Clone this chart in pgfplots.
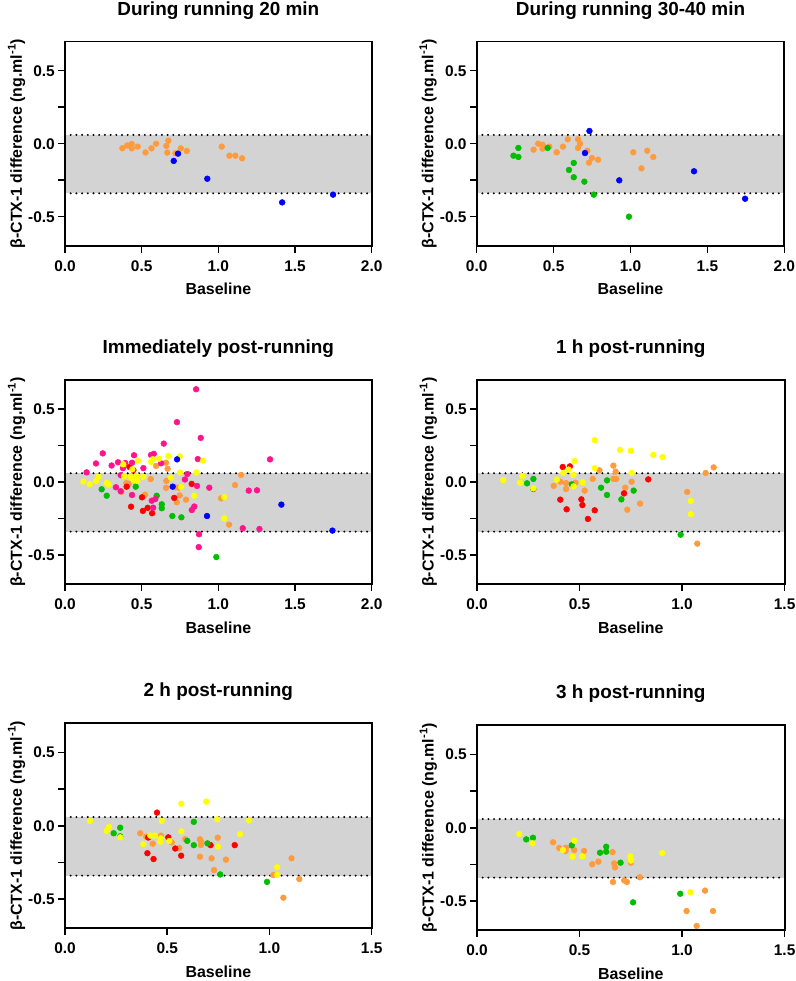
\documentclass[border=0pt]{standalone}
\usepackage{pgfplots}
\pgfplotsset{compat=1.18}
\usepackage{fontspec}
\setmainfont{Liberation Sans}
\definecolor{cOr}{RGB}{255,155,60}
\definecolor{cBl}{RGB}{0,0,255}
\definecolor{cGr}{RGB}{0,190,0}
\definecolor{cRd}{RGB}{255,0,0}
\definecolor{cYe}{RGB}{255,255,0}
\definecolor{cPk}{RGB}{255,20,140}
\definecolor{cBand}{RGB}{211,211,211}
\pgfplotsset{
  bap/.style={
    scale only axis, anchor=south west,
    axis on top,
    axis line style={line width=1.8bp},
    every tick/.style={black, line width=1.5bp},
    major tick length=6.7bp,
    tick align=outside,
    xtick pos=bottom, ytick pos=left,
    xmin=0, xmax=#1, ymin=-0.7, ymax=0.7,
    ytick={-0.5,-0.25,0,0.25,0.5},
    yticklabels={-0.5,,0.0,,0.5},
    ylabel={β-CTX-1 difference (ng.ml\textsuperscript{-1})},
    xlabel={Baseline},
    tick label style={font=\bfseries\fontsize{15.5}{18}\selectfont},
    xticklabel style={yshift=-4.5bp},
    label style={font=\bfseries\fontsize{16}{19}\selectfont},
    title style={font=\bfseries\fontsize{19}{22}\selectfont, at={(axis description cs:0.5,1.1296)}, anchor=base, yshift=-6pt},
    xlabel style={at={(axis description cs:0.5,-0.240)}, anchor=base},
    ylabel style={at={(axis description cs:-0.158,0.5)}, anchor=center},
  },
  pts/.style={only marks, color=#1, mark=*, mark size=2.9bp, mark options={draw=#1, fill=#1, line width=0.5bp, solid}},
  bandline/.style={black, line width=2.2bp, line cap=round, dash pattern=on 0bp off 5.7bp},
}
\newcommand{\band}[1]{%
  \addplot[draw=none, fill=cBand] coordinates {(0,-0.34) (#1,-0.34) (#1,0.06) (0,0.06)};
  \addplot[bandline] coordinates {(0,0.06) (#1,0.06)};
  \addplot[bandline] coordinates {(0,-0.34) (#1,-0.34)};
}
\begin{document}
\begin{tikzpicture}
\path[use as bounding box] (0,0) rectangle (796bp,981bp);

% Panel 1
\begin{axis}[bap=2, at={(65bp,735.1bp)}, width=306.7bp, height=204.4bp,
  xtick={0,0.5,1,1.5,2}, xticklabels={0.0,0.5,1.0,1.5,2.0},
  title={During running 20 min}]
\band{2}
\addplot[pts=cOr] coordinates {(0.374,-0.031)(0.406,-0.012)(0.435,-0.002)(0.435,-0.032)(0.474,-0.020)(0.525,-0.060)(0.564,-0.032)(0.594,0.000)(0.661,-0.015)(0.674,0.021)(0.667,-0.061)(0.720,-0.065)(0.755,-0.032)(0.794,-0.050)(1.022,-0.020)(1.072,-0.082)(1.111,-0.082)(1.155,-0.100)};
\addplot[pts=cBl] coordinates {(0.709,-0.118)(0.737,-0.068)(0.928,-0.240)(1.416,-0.402)(1.748,-0.349)};
\end{axis}

% Panel 2
\begin{axis}[bap=2, at={(476.7bp,735.1bp)}, width=307.6bp, height=204.4bp,
  xtick={0,0.5,1,1.5,2}, xticklabels={0.0,0.5,1.0,1.5,2.0},
  title={During running 30-40 min}]
\band{2}
\addplot[pts=cOr] coordinates {(0.370,-0.041)(0.400,0.000)(0.428,-0.007)(0.428,-0.034)(0.472,-0.020)(0.520,-0.059)(0.561,-0.020)(0.592,0.030)(0.659,0.030)(0.672,0.000)(0.659,-0.029)(0.719,-0.048)(0.749,-0.098)(0.730,-0.130)(0.789,-0.110)(1.018,-0.059)(1.109,-0.048)(1.148,-0.091)(1.071,-0.169)};
\addplot[pts=cGr] coordinates {(0.239,-0.082)(0.271,-0.029)(0.271,-0.091)(0.461,-0.029)(0.631,-0.132)(0.600,-0.180)(0.631,-0.230)(0.700,-0.260)(0.761,-0.349)(0.990,-0.500)};
\addplot[pts=cBl] coordinates {(0.733,0.087)(0.704,-0.064)(0.927,-0.251)(1.413,-0.189)(1.745,-0.377)};
\end{axis}

% Panel 3
\begin{axis}[bap=2, at={(65bp,396.8bp)}, width=306.7bp, height=204.4bp,
  xtick={0,0.5,1,1.5,2}, xticklabels={0.0,0.5,1.0,1.5,2.0},
  title={Immediately post-running}]
\band{2}
\addplot[pts=cOr] coordinates {(0.367,-0.068)(0.400,-0.008)(0.415,-0.012)(0.405,-0.025)(0.522,-0.087)(0.559,0.020)(0.594,0.110)(0.659,0.132)(0.669,0.091)(0.661,0.008)(0.659,-0.040)(0.718,-0.036)(0.741,-0.039)(0.748,-0.092)(0.789,-0.121)(0.729,-0.139)(1.018,-0.112)(1.070,-0.292)(1.109,-0.021)(1.148,0.048)};
\addplot[pts=cRd] coordinates {(0.420,0.103)(0.446,0.082)(0.402,-0.032)(0.502,-0.105)(0.431,-0.169)(0.508,-0.198)(0.539,-0.177)(0.568,-0.214)(0.712,-0.109)(0.826,-0.013)};
\addplot[pts=cGr] coordinates {(0.239,-0.050)(0.272,-0.094)(0.461,-0.032)(0.598,-0.094)(0.631,-0.153)(0.631,-0.180)(0.700,-0.233)(0.759,-0.242)(0.987,-0.514)};
\addplot[pts=cPk] coordinates {(0.141,0.066)(0.202,0.127)(0.246,0.196)(0.304,0.113)(0.346,0.135)(0.378,0.094)(0.393,0.130)(0.437,0.132)(0.450,0.183)(0.363,0.047)(0.332,-0.036)(0.363,-0.063)(0.437,-0.089)(0.511,0.095)(0.561,0.185)(0.579,0.193)(0.627,0.128)(0.566,-0.128)(0.589,-0.117)(0.575,-0.176)(0.644,0.263)(0.730,0.410)(0.855,0.635)(0.885,0.302)(0.866,0.157)(0.782,0.017)(0.798,0.055)(0.861,-0.027)(0.941,-0.039)(0.843,-0.168)(0.827,-0.192)(0.874,-0.358)(0.872,-0.446)(1.159,-0.317)(1.198,-0.059)(1.252,-0.057)(1.268,-0.322)(1.337,0.155)};
\addplot[pts=cYe] coordinates {(0.120,0.003)(0.161,-0.014)(0.203,0.006)(0.218,0.036)(0.272,-0.006)(0.285,-0.017)(0.380,0.121)(0.476,0.145)(0.439,0.087)(0.385,0.040)(0.428,0.035)(0.468,0.040)(0.472,0.008)(0.511,0.035)(0.446,0.014)(0.561,0.137)(0.572,0.156)(0.613,0.159)(0.674,0.178)(0.748,0.176)(0.900,0.146)(0.750,0.065)(0.856,0.065)(0.690,0.030)(0.758,-0.035)(0.843,-0.094)(1.038,-0.103)(1.038,-0.249)};
\addplot[pts=cBl] coordinates {(0.731,0.155)(0.702,-0.032)(0.926,-0.233)(1.411,-0.155)(1.744,-0.333)};
\end{axis}

% Panel 4
\begin{axis}[bap=1.5, at={(477bp,396.8bp)}, width=307.6bp, height=204.4bp,
  xtick={0,0.5,1,1.5}, xticklabels={0.0,0.5,1.0,1.5},
  title={1 h post-running}]
\band{1.5}
\addplot[pts=cOr] coordinates {(0.374,-0.027)(0.406,0.002)(0.434,-0.007)(0.434,-0.048)(0.480,-0.005)(0.525,-0.059)(0.564,0.021)(0.597,0.080)(0.665,0.112)(0.676,0.071)(0.665,0.021)(0.679,0.021)(0.723,-0.039)(0.754,0.002)(0.733,-0.190)(0.795,-0.148)(1.025,-0.068)(1.115,0.062)(1.154,0.100)(1.074,-0.422)};
\addplot[pts=cRd] coordinates {(0.418,0.103)(0.453,0.107)(0.406,-0.121)(0.437,-0.187)(0.509,-0.119)(0.514,-0.158)(0.574,-0.194)(0.541,-0.253)(0.717,-0.078)(0.835,0.018)};
\addplot[pts=cGr] coordinates {(0.244,-0.009)(0.275,0.021)(0.275,-0.048)(0.462,-0.016)(0.605,-0.039)(0.634,0.011)(0.634,-0.089)(0.704,-0.119)(0.764,-0.059)(0.993,-0.361)};
\addplot[pts=cYe] coordinates {(0.128,0.014)(0.210,-0.005)(0.221,0.041)(0.275,-0.043)(0.389,0.016)(0.421,0.062)(0.447,0.085)(0.470,0.048)(0.471,-0.030)(0.476,0.144)(0.515,-0.002)(0.574,0.286)(0.574,0.095)(0.697,0.219)(0.750,0.214)(0.754,0.062)(0.860,0.185)(0.905,0.171)(1.043,-0.130)(1.043,-0.221)};
\end{axis}

% Panel 5
\begin{axis}[bap=1.5, at={(65bp,52.65bp)}, width=306.7bp, height=205.1bp,
  xtick={0,0.5,1,1.5}, xticklabels={0.0,0.5,1.0,1.5},
  title={2 h post-running}]
\band{1.5}
\addplot[pts=cOr] coordinates {(0.368,-0.051)(0.397,-0.074)(0.429,-0.122)(0.469,-0.067)(0.522,-0.113)(0.559,-0.152)(0.588,-0.092)(0.660,-0.092)(0.665,-0.131)(0.667,-0.110)(0.660,-0.211)(0.717,-0.222)(0.747,-0.081)(0.787,-0.231)(0.729,-0.302)(1.019,-0.336)(1.108,-0.222)(1.146,-0.363)(1.068,-0.491)};
\addplot[pts=cRd] coordinates {(0.450,0.090)(0.407,-0.080)(0.505,-0.079)(0.403,-0.187)(0.433,-0.227)(0.539,-0.155)(0.568,-0.204)(0.712,-0.132)(0.830,-0.132)};
\addplot[pts=cGr] coordinates {(0.270,-0.013)(0.238,-0.051)(0.270,-0.072)(0.630,0.027)(0.598,-0.103)(0.630,-0.132)(0.697,-0.120)(0.759,-0.332)(0.988,-0.383)};
\addplot[pts=cYe] coordinates {(0.122,0.033)(0.204,-0.035)(0.215,-0.008)(0.270,-0.079)(0.383,-0.124)(0.417,-0.067)(0.440,-0.067)(0.469,-0.086)(0.466,-0.108)(0.510,-0.104)(0.473,0.033)(0.569,0.151)(0.691,0.165)(0.569,-0.038)(0.745,0.044)(0.748,-0.142)(0.856,-0.058)(0.900,0.037)(1.038,-0.283)(1.038,-0.336)};
\end{axis}

% Panel 6
\begin{axis}[bap=1.5, at={(477bp,50.65bp)}, width=307.6bp, height=205.1bp,
  xtick={0,0.5,1,1.5}, xticklabels={0.0,0.5,1.0,1.5},
  title={3 h post-running}]
\band{1.5}
\addplot[pts=cOr] coordinates {(0.371,-0.099)(0.401,-0.138)(0.432,-0.158)(0.433,-0.136)(0.474,-0.152)(0.522,-0.158)(0.562,-0.249)(0.592,-0.231)(0.661,-0.166)(0.669,-0.243)(0.673,-0.270)(0.663,-0.370)(0.718,-0.359)(0.731,-0.370)(0.751,-0.238)(0.794,-0.338)(1.112,-0.429)(1.022,-0.568)(1.151,-0.568)(1.071,-0.670)};
\addplot[pts=cGr] coordinates {(0.240,-0.079)(0.273,-0.068)(0.462,-0.120)(0.600,-0.170)(0.630,-0.129)(0.630,-0.163)(0.700,-0.238)(0.761,-0.509)(0.991,-0.450)};
\addplot[pts=cYe] coordinates {(0.206,-0.042)(0.271,-0.106)(0.419,-0.152)(0.475,-0.088)(0.466,-0.197)(0.514,-0.195)(0.748,-0.195)(0.751,-0.224)(0.903,-0.172)(1.041,-0.440)};
\end{axis}
\end{tikzpicture}
\end{document}
